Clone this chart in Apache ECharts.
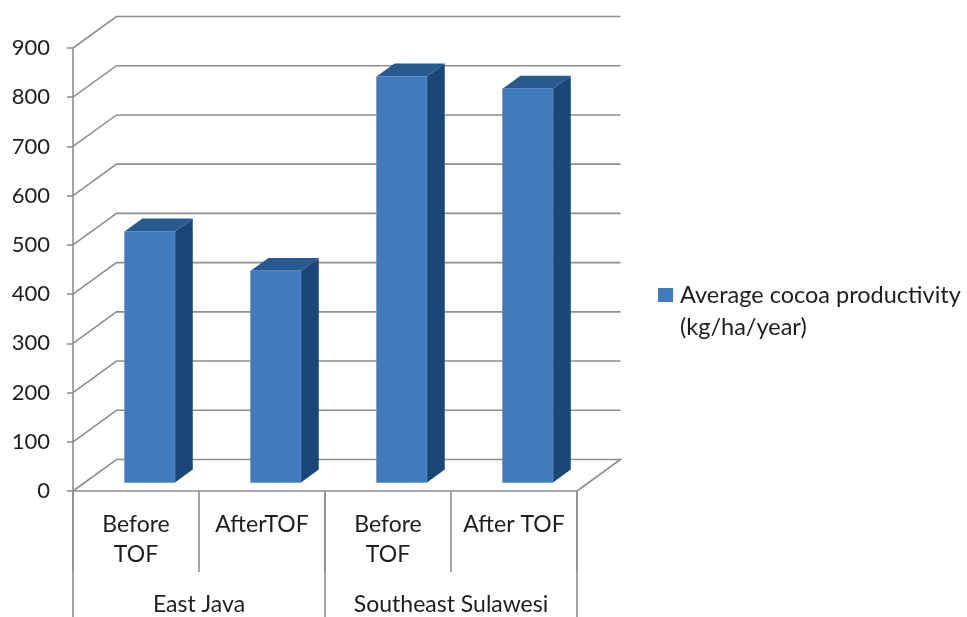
<!DOCTYPE html>
<html lang="en">
<head>
    <meta charset="UTF-8">
    <title>Average cocoa productivity</title>
    <script src="https://cdn.jsdelivr.net/npm/echarts@6/dist/echarts.min.js"></script>
    <style>
        html, body { margin: 0; padding: 0; background: #fff; }
        #chart { width: 967px; height: 617px; }
    </style>
</head>
<body>
    <div id="chart"></div>
<script>
    // data
    var categories = ['Before\nTOF', 'AfterTOF', 'Before\nTOF', 'After TOF'];
    var regions = ['East Java', 'Southeast Sulawesi'];
    var productivity = [510, 430, 825, 800];
    var yTicks = [0, 100, 200, 300, 400, 500, 600, 700, 800, 900];
    var seriesName = 'Average cocoa productivity\n(kg/ha/year)';

    // 3d look: depth of the floor in pixels, bar placement along it
    var DX = 43.5, DY = -31.5;
    var BAR_FRONT = 0.27, BAR_DEPTH = 0.41, BAR_W = 0.40;
    var FONT = 'Lato, "Open Sans", sans-serif';
    var GRID_COLOR = '#8f8f8f';
    var TEXT_COLOR = '#1e1e1e';

    var chart = echarts.init(document.getElementById('chart'));

    function renderWall(params, api) {
        var v = api.value(1);
        var cw = api.size([1, 0])[0];
        var p0 = api.coord([0, v]);
        var p3 = api.coord([categories.length - 1, v]);
        var left = p0[0] - cw / 2, right = p3[0] + cw / 2, y = p0[1];
        var pts = [[left, y], [left + DX, y + DY], [right + DX, y + DY]];
        if (v === 0) pts.push([right, y]);
        return {
            type: 'polyline',
            shape: { points: pts },
            style: { stroke: GRID_COLOR, lineWidth: 1.6, fill: null }
        };
    }

    function renderBar(params, api) {
        var idx = api.value(0), val = api.value(1);
        var base = api.coord([idx, 0]);
        var cw = api.size([1, 0])[0];
        var h = api.size([0, val])[1];
        var w = cw * BAR_W;
        var x0 = base[0] + BAR_FRONT * DX - w / 2 + 2;
        var x1 = x0 + w;
        var yb = base[1] + BAR_FRONT * DY;
        var yt = yb - h;
        var dx = BAR_DEPTH * DX, dy = BAR_DEPTH * DY;
        return {
            type: 'group',
            children: [{
                type: 'polygon',
                shape: { points: [[x1, yb], [x1 + dx, yb + dy], [x1 + dx, yt + dy], [x1, yt]] },
                style: { fill: '#1b4776' }
            }, {
                type: 'polygon',
                shape: { points: [[x0, yt], [x1, yt], [x1 + dx, yt + dy], [x0 + dx, yt + dy]] },
                style: { fill: '#285a90' }
            }, {
                type: 'rect',
                shape: { x: x0, y: yt, width: w, height: h },
                style: { fill: '#407bbd', stroke: '#5b8fcc', lineWidth: 0.6 }
            }]
        };
    }

    var option = {
        animation: false,
        textStyle: { fontFamily: FONT },
        grid: { left: 73, right: 390, top: 48, bottom: 126, containLabel: false, outerBoundsMode: 'none' },
        xAxis: [{
            type: 'category',
            data: categories,
            axisLine: { show: true, lineStyle: { color: GRID_COLOR, width: 1.6 } },
            axisTick: { show: true, interval: 0, length: 81, lineStyle: { color: GRID_COLOR, width: 1.6 } },
            axisLabel: { interval: 0, hideOverlap: false, margin: 19, fontSize: 23, lineHeight: 30, color: TEXT_COLOR, fontFamily: FONT }
        }, {
            type: 'category',
            data: regions,
            position: 'bottom',
            axisLine: { show: false },
            axisTick: { show: true, interval: 0, length: 126, lineStyle: { color: GRID_COLOR, width: 1.6 } },
            axisLabel: { interval: 0, hideOverlap: false, margin: 102, fontSize: 23, lineHeight: 24, color: TEXT_COLOR, fontFamily: FONT }
        }],
        yAxis: {
            type: 'value',
            min: 0, max: 900, interval: 100,
            axisLine: { show: true, lineStyle: { color: GRID_COLOR, width: 1.6 } },
            axisTick: { show: true, length: 6, lineStyle: { color: GRID_COLOR, width: 1.6 } },
            axisLabel: { margin: 23, fontSize: 22, color: TEXT_COLOR, fontFamily: FONT },
            splitLine: { show: false }
        },
        graphic: [{
            type: 'rect',
            shape: { x: 658, y: 288, width: 15, height: 14 },
            style: { fill: '#407bbd' }
        }, {
            type: 'text',
            x: 680, y: 279,
            style: { text: seriesName, font: '23.5px ' + FONT, lineHeight: 32, fill: TEXT_COLOR }
        }],
        series: [{
            type: 'custom',
            name: 'wall',
            renderItem: renderWall,
            data: yTicks.map(function (t) { return [0, t]; }),
            z: 1,
            silent: true
        }, {
            type: 'custom',
            name: seriesName,
            renderItem: renderBar,
            data: productivity.map(function (v, i) { return [i, v]; }),
            z: 3
        }]
    };
    chart.setOption(option);
</script>
</body>
</html>
